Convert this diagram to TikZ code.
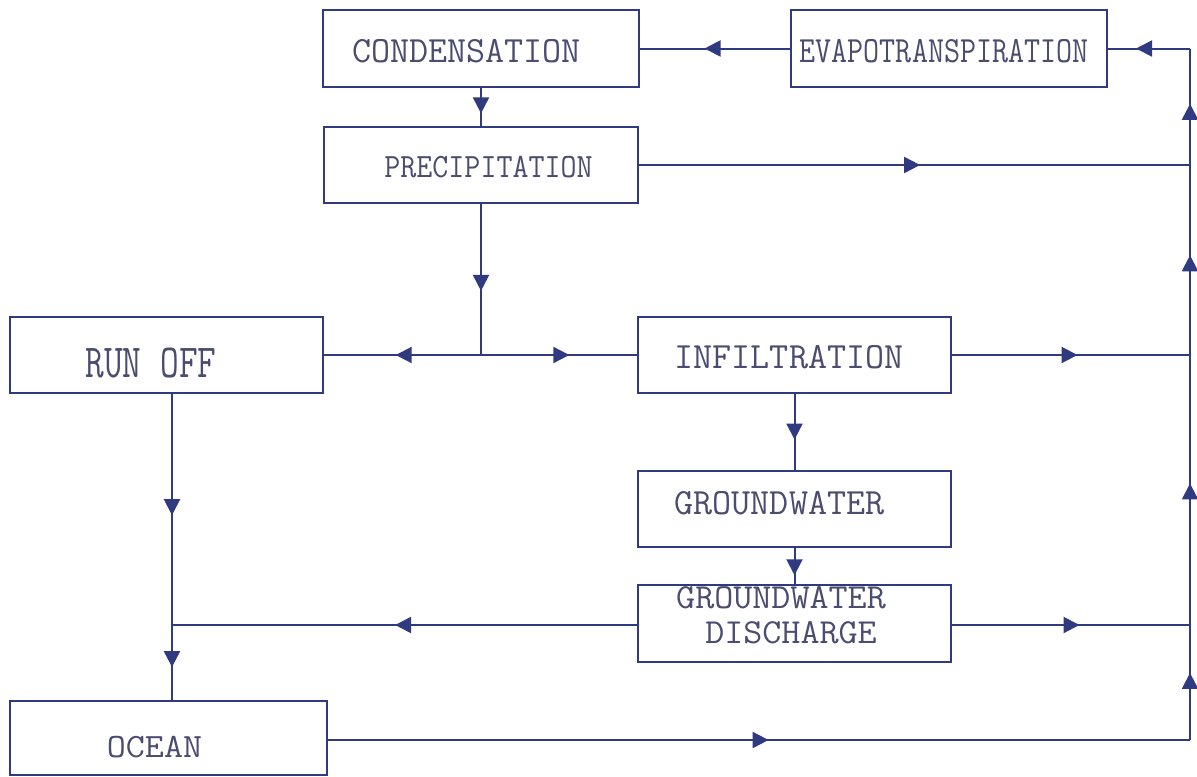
\documentclass[tikz,border=0pt]{standalone}
\usepackage{graphicx}
\usetikzlibrary{arrows.meta,decorations.markings}
\definecolor{ink}{RGB}{48,58,128}
\definecolor{txt}{RGB}{74,76,112}
\tikzset{
  box/.style={draw=ink, line width=1.2pt, rectangle, inner sep=0pt},
  lbl/.style={inner sep=0pt, text=txt, font=\ttfamily\fontsize{18.5}{16}\selectfont},
  flow/.style={color=ink, line width=1pt},
  arr/.style={postaction={decorate, decoration={markings,
      mark=at position #1 with {\arrow{Triangle[length=8pt,width=8pt]}}}}},
}
\begin{document}
\begin{tikzpicture}[x=0.5pt,y=-0.5pt]
\fill[white] (0,0) rectangle (1197,776);
\useasboundingbox (0,0) rectangle (1197,776);

% boxes
\node[box, minimum width=158pt, minimum height=38.5pt] (cond) at (481,48.5) {};
\node[box, minimum width=158pt, minimum height=38.5pt] (evap) at (949,48.5) {};
\node[box, minimum width=157pt, minimum height=38pt] (prec) at (481,165) {};
\node[box, minimum width=156.5pt, minimum height=38pt] (runoff) at (166.5,355) {};
\node[box, minimum width=156.5pt, minimum height=38pt] (infil) at (794.5,355) {};
\node[box, minimum width=156.5pt, minimum height=38pt] (gw) at (794.5,509) {};
\node[box, minimum width=156.5pt, minimum height=38.5pt] (gwd) at (794.5,623.5) {};
\node[box, minimum width=158.5pt, minimum height=37pt] (ocean) at (168.5,738) {};

% texts
\node[lbl] (condt) at (466.5,51.5) {CONDENSATION};
\node[lbl] (evapt) at (944,51) {\scalebox{0.84}[1]{EVAPOTRANSPIRATION}};
\node[lbl] (prect) at (488.5,167) {\scalebox{0.84}[0.92]{PRECIPITATION}};
\node[lbl] (runofft) at (151,363) {\scalebox{0.98}[1.28]{RUN OFF}};
\node[lbl] (infilt) at (789,357) {INFILTRATION};
\node[lbl] (gwt) at (779.5,503.5) {GROUNDWATER};
\node[lbl] (gwdta) at (781,598) {\scalebox{1}[0.95]{GROUNDWATER}};
\node[lbl] (gwdtb) at (791,633) {\scalebox{1}[0.95]{DISCHARGE}};
\node[lbl] (oceant) at (154.5,747) {\scalebox{1}[0.92]{OCEAN}};

\coordinate (rtop) at (1190,48.5);
\coordinate (rbot) at (1190,740);
\coordinate (J) at (481,355);
\coordinate (ocol) at (172,625);

\draw[flow, arr=0.57] (evap.west) -- (cond.east);
\draw[flow, arr=0.66] (rtop) -- (evap.east);
\draw[flow, arr=0.67] (cond.south) -- (prec.north);
\draw[flow, arr=0.51] (prec.east) -- (prec.east -| rtop);
\draw[flow, arr=0.575] (prec.south) -- (J);
\draw[flow, arr=0.544] (J) -- (runoff.east);
\draw[flow, arr=0.567] (J) -- (infil.west);
\draw[flow, arr=0.527] (infil.east) -- (infil.east -| rtop);
\draw[flow, arr=0.60] (infil.south) -- (gw.north);
\draw[flow, arr=0.76] (gw.south) -- (gwd.north);
\draw[flow, arr=0.54] (gwd.west |- ocol) ++(313,0) coordinate (gwde) -- (gwde -| rtop);
\draw[flow, arr=0.52] (gwd.west |- ocol) -- (ocol);
\draw[flow, arr=0.396, arr=0.893] (runoff.south -| ocol) -- (ocean.north -| ocol);
\draw[flow, arr=0.511] (ocean.east |- rbot) -- (rbot);
\draw[flow, arr=0.097, arr=0.371, arr=0.701, arr=0.92] (rbot) -- (rtop);
\end{tikzpicture}
\end{document}
